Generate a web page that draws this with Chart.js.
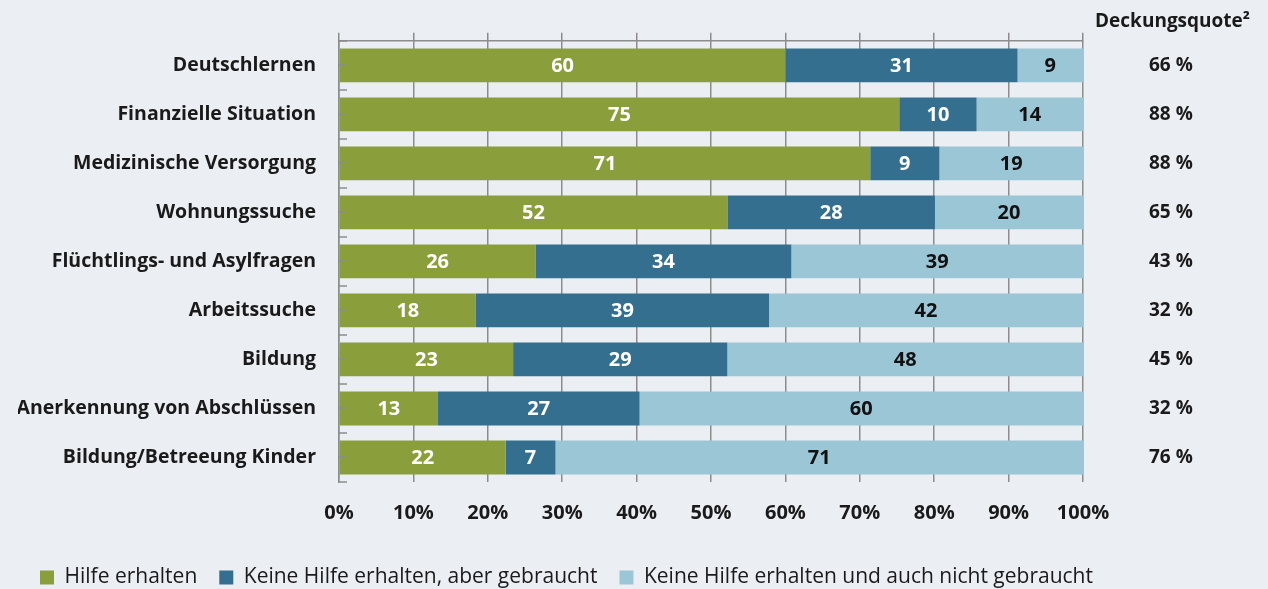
<!DOCTYPE html>
<html>
<head>
<meta charset="utf-8">
<script src="https://cdn.jsdelivr.net/npm/chart.js@4.4.1/dist/chart.umd.min.js"></script>
<style>
  html, body { margin: 0; padding: 0; background: #ebeef2; overflow: hidden; width: 1268px; height: 589px; }
  canvas { display: block; }
</style>
</head>
<body>
<canvas id="c" width="1268" height="598" style="width:1268px;height:598px"></canvas>
<script>
// ---- data ----
const categories = [
  'Deutschlernen',
  'Finanzielle Situation',
  'Medizinische Versorgung',
  'Wohnungssuche',
  'Flüchtlings- und Asylfragen',
  'Arbeitssuche',
  'Bildung',
  'Anerkennung von Abschlüssen',
  'Bildung/Betreeung Kinder'
];
const helpReceived = [60.0, 75.3, 71.4, 52.2, 26.4, 18.4, 23.4, 13.3, 22.4];
const helpNeeded   = [31.2, 10.4,  9.3, 27.9, 34.4, 39.4, 28.8, 27.1,  6.7];
const noHelpNeeded = [ 8.8, 14.3, 19.3, 19.9, 39.2, 42.2, 47.8, 59.6, 70.9];
const coverage = ['66 %', '88 %', '88 %', '65 %', '43 %', '32 %', '45 %', '32 %', '76 %'];
const coverageTitle = 'Deckungsquote²';
const seriesNames = [
  'Hilfe erhalten',
  'Keine Hilfe erhalten, aber gebraucht',
  'Keine Hilfe erhalten und auch nicht gebraucht'
];
const xTickValues = [0, 10, 20, 30, 40, 50, 60, 70, 80, 90, 100];

// ---- style ----
const FONT = '"Open Sans"';
const TEXT = '#1a1a1a';
const GRID = '#8c8c8c';
const colors = ['#8a9e3b', '#346f90', '#9bc6d6'];
const labelColors = ['#ffffff', '#ffffff', '#111111'];

const segmentLabels = {
  id: 'segmentLabels',
  afterDatasetsDraw(chart) {
    const ctx = chart.ctx;
    ctx.save();
    ctx.font = 'bold 20px ' + FONT;
    ctx.textAlign = 'center';
    ctx.textBaseline = 'middle';
    chart.data.datasets.forEach((ds, di) => {
      const meta = chart.getDatasetMeta(di);
      meta.data.forEach((bar, i) => {
        const cx = (bar.x + bar.base) / 2;
        ctx.fillStyle = labelColors[di];
        ctx.fillText(String(Math.round(ds.data[i])), cx, bar.y + 1);
      });
    });
    // small ticks on the category axis: long ones between categories, short ones at centres
    const ys = chart.scales.y;
    const x0 = chart.chartArea.left;
    ctx.strokeStyle = GRID;
    ctx.lineWidth = 1.5;
    for (let i = 0; i <= categories.length; i++) {
      const py = Math.round(ys.getPixelForValue(i - 0.5));
      ctx.beginPath();
      ctx.moveTo(x0, py);
      ctx.lineTo(x0 + 8, py);
      ctx.stroke();
    }
    categories.forEach((c, i) => {
      const py = Math.round(ys.getPixelForValue(i));
      ctx.beginPath();
      ctx.moveTo(x0, py);
      ctx.lineTo(x0 + 6, py);
      ctx.stroke();
    });
    ctx.restore();
  }
};

function draw() {
  Chart.defaults.font.family = FONT;
  Chart.defaults.color = TEXT;
  new Chart(document.getElementById('c'), {
    type: 'bar',
    data: {
      labels: categories,
      datasets: [
        { label: seriesNames[0], data: helpReceived, backgroundColor: colors[0] },
        { label: seriesNames[1], data: helpNeeded, backgroundColor: colors[1] },
        { label: seriesNames[2], data: noHelpNeeded, backgroundColor: colors[2] }
      ]
    },
    options: {
      indexAxis: 'y',
      responsive: false,
      animation: false,
      devicePixelRatio: 1,
      datasets: { bar: { categoryPercentage: 1, barPercentage: 0.69, borderWidth: 0 } },
      layout: { padding: { left: 18, right: 18, top: 0, bottom: 0 } },
      scales: {
        x: {
          type: 'linear', position: 'bottom', stacked: true, min: 0, max: 100,
          afterBuildTicks: (s) => { s.ticks = xTickValues.map(v => ({ value: v })); },
          ticks: { callback: (v) => v + '%', font: { size: 20, weight: 'bold' }, color: TEXT, padding: 19, maxRotation: 0 },
          grid: { color: GRID, lineWidth: 1.5, drawTicks: false },
          border: { display: false },
          afterFit: (s) => { s.height = 63; }
        },
        x2: {
          type: 'linear', position: 'top', min: 0, max: 100,
          afterBuildTicks: (s) => { s.ticks = xTickValues.map(v => ({ value: v })); },
          ticks: { display: false, padding: 0 },
          grid: { color: GRID, lineWidth: 1.5, drawOnChartArea: false, drawTicks: true, tickLength: 8 },
          border: { display: true, color: GRID, width: 1.5 },
          afterFit: (s) => { s.height = 8; }
        },
        y: {
          type: 'category', position: 'left', stacked: true, offset: true,
          ticks: { font: { size: 19.5, weight: 'bold' }, color: TEXT, padding: 0 },
          grid: { display: false, drawTicks: true, tickLength: 23 },
          border: { display: true, color: GRID, width: 1.5 },
          afterFit: (s) => { s.width = 321; }
        },
        y2: {
          type: 'category', position: 'right', labels: coverage, offset: true,
          ticks: { font: { size: 19, weight: 'bold' }, color: TEXT, padding: 0, crossAlign: 'near' },
          grid: { display: false, drawTicks: true, tickLength: 66 },
          border: { display: false },
          afterFit: (s) => { s.width = 167; }
        }
      },
      plugins: {
        title: {
          display: true, text: coverageTitle, align: 'end', color: TEXT,
          font: { size: 19, weight: 'bold' }, padding: { top: 10, bottom: 0 }
        },
        legend: {
          position: 'bottom', align: 'start',
          labels: { boxWidth: 14, boxHeight: 14, padding: 22, color: TEXT, font: { size: 21, weight: 'normal' } }
        },
        tooltip: { enabled: false }
      }
    },
    plugins: [segmentLabels]
  });
}

const fontsReady = document.fonts && document.fonts.load
  ? Promise.all([document.fonts.load('bold 20px "Open Sans"'), document.fonts.load('21px "Open Sans"')])
  : Promise.resolve();
fontsReady.then(draw, draw);
</script>
</body>
</html>
